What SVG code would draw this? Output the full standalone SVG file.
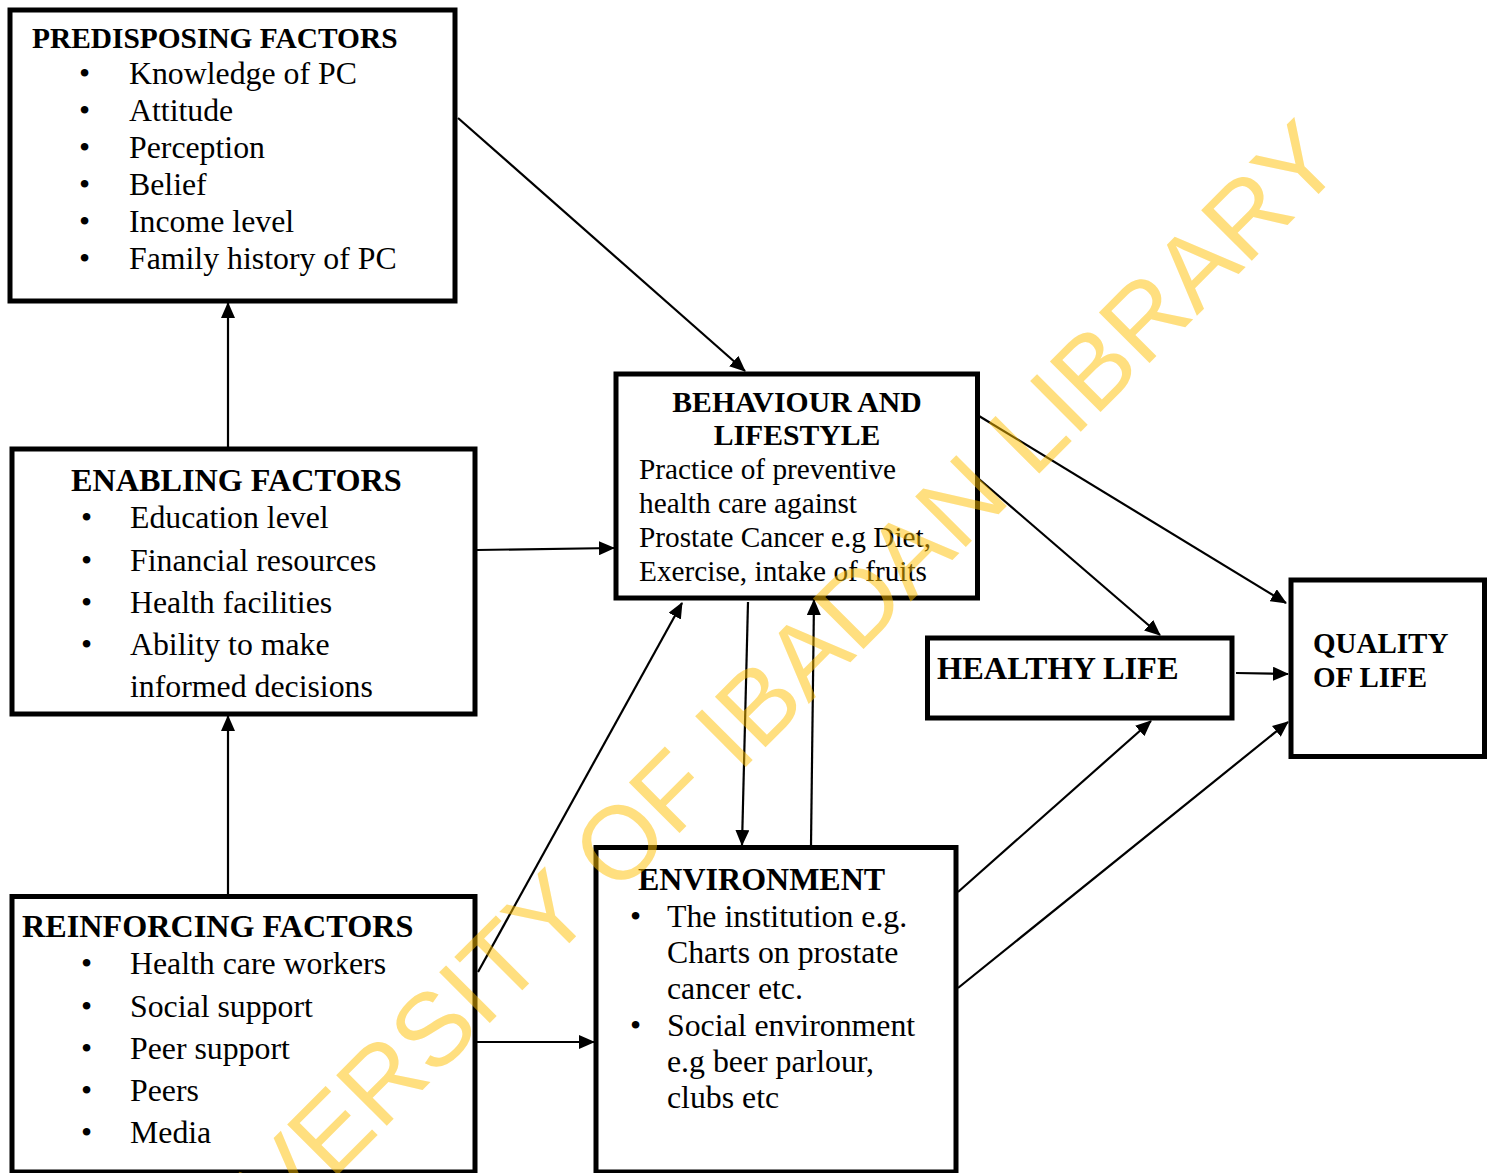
<svg xmlns="http://www.w3.org/2000/svg" width="1487" height="1173" viewBox="0 0 1487 1173">
<defs>
<style>
.box{fill:#fff;stroke:#000;stroke-width:5}
.t{font-family:"Liberation Serif","Times New Roman",serif;fill:#000}
.b{font-weight:bold}
.c{stroke:#000;stroke-width:2.2;fill:none}
.wm{font-family:"Liberation Sans",Arial,sans-serif;fill:#FFC000;fill-opacity:0.5}
</style>
<marker id="ah" viewBox="0 0 16 14" refX="15" refY="7" markerWidth="16" markerHeight="14" orient="auto" markerUnits="userSpaceOnUse">
<path d="M0,0 L16,7 L0,14 z" fill="#000"/>
</marker>
</defs>
<rect width="1487" height="1173" fill="#fff"/>

<g id="predisposing">
<rect class="box" x="10" y="10" width="445" height="291"/>
<text class="t b" x="32" y="48" font-size="29.4">PREDISPOSING FACTORS</text>
<g class="t" font-size="31.8">
<text x="79" y="84">•</text><text x="129" y="84">Knowledge of PC</text>
<text x="79" y="121">•</text><text x="129" y="121">Attitude</text>
<text x="79" y="158">•</text><text x="129" y="158">Perception</text>
<text x="79" y="195">•</text><text x="129" y="195">Belief</text>
<text x="79" y="232">•</text><text x="129" y="232">Income level</text>
<text x="79" y="269">•</text><text x="129" y="269">Family history of PC</text>
</g>
</g>

<g id="enabling">
<rect class="box" x="12" y="449" width="463" height="265"/>
<text class="t b" x="71" y="491" font-size="32.2">ENABLING FACTORS</text>
<g class="t" font-size="31.8">
<text x="81" y="528">•</text><text x="130" y="528">Education level</text>
<text x="81" y="571">•</text><text x="130" y="571">Financial resources</text>
<text x="81" y="613">•</text><text x="130" y="613">Health facilities</text>
<text x="81" y="655">•</text><text x="130" y="655">Ability to make</text>
<text x="130" y="697">informed decisions</text>
</g>
</g>

<g id="reinforcing">
<rect class="box" x="12" y="896.5" width="463" height="275.5"/>
<text class="t b" x="22" y="937" font-size="32.2">REINFORCING FACTORS</text>
<g class="t" font-size="31.8">
<text x="81" y="974">•</text><text x="130" y="974">Health care workers</text>
<text x="81" y="1017">•</text><text x="130" y="1017">Social support</text>
<text x="81" y="1059">•</text><text x="130" y="1059">Peer support</text>
<text x="81" y="1101">•</text><text x="130" y="1101">Peers</text>
<text x="81" y="1143">•</text><text x="130" y="1143">Media</text>
</g>
</g>

<g id="behaviour">
<rect class="box" x="616" y="374" width="361.5" height="224"/>
<text class="t b" x="797" y="412" font-size="29.7" text-anchor="middle">BEHAVIOUR AND</text>
<text class="t b" x="797" y="445" font-size="29.7" text-anchor="middle">LIFESTYLE</text>
<g class="t" font-size="29.3">
<text x="639" y="479">Practice of preventive</text>
<text x="639" y="513">health care against</text>
<text x="639" y="547">Prostate Cancer e.g Diet,</text>
<text x="639" y="581">Exercise, intake of fruits</text>
</g>
</g>

<g id="environment">
<rect class="box" x="596" y="847.5" width="360" height="324.5"/>
<text class="t b" x="638" y="890" font-size="32">ENVIRONMENT</text>
<g class="t" font-size="31.8">
<text x="630" y="927">•</text><text x="667" y="927">The institution e.g.</text>
<text x="667" y="963">Charts on prostate</text>
<text x="667" y="999">cancer etc.</text>
<text x="630" y="1036">•</text><text x="667" y="1036">Social environment</text>
<text x="667" y="1072">e.g beer parlour,</text>
<text x="667" y="1108">clubs etc</text>
</g>
</g>

<g id="healthy">
<rect class="box" x="927.5" y="638" width="304.5" height="80"/>
<text class="t b" x="937" y="679" font-size="32.4">HEALTHY LIFE</text>
</g>

<g id="quality">
<rect class="box" x="1291" y="580" width="193.5" height="176.5"/>
<text class="t b" x="1313" y="653" font-size="29">QUALITY</text>
<text class="t b" x="1313" y="687" font-size="29">OF LIFE</text>
</g>

<g id="connectors">
<path class="c" d="M458,118 L745,371" marker-end="url(#ah)"/>
<path class="c" d="M228,449 L228,303" marker-end="url(#ah)"/>
<path class="c" d="M228,896 L228,716" marker-end="url(#ah)"/>
<path class="c" d="M477,550 L614,548" marker-end="url(#ah)"/>
<path class="c" d="M478,972 L682,603" marker-end="url(#ah)"/>
<path class="c" d="M477,1042 L594,1042" marker-end="url(#ah)"/>
<path class="c" d="M748,602 L742,845" marker-end="url(#ah)"/>
<path class="c" d="M811,845 L814,600" marker-end="url(#ah)"/>
<path class="c" d="M979,416 L1286,603" marker-end="url(#ah)"/>
<path class="c" d="M979,479 L1160,635" marker-end="url(#ah)"/>
<path class="c" d="M1236,673 L1288,674" marker-end="url(#ah)"/>
<path class="c" d="M958,892 L1151,721" marker-end="url(#ah)"/>
<path class="c" d="M958,988 L1288,722" marker-end="url(#ah)"/>
</g>

<text class="wm" transform="translate(156,1356.6) rotate(-45)" font-size="104">UNIVERSITY OF IBADAN LIBRARY</text>
</svg>
